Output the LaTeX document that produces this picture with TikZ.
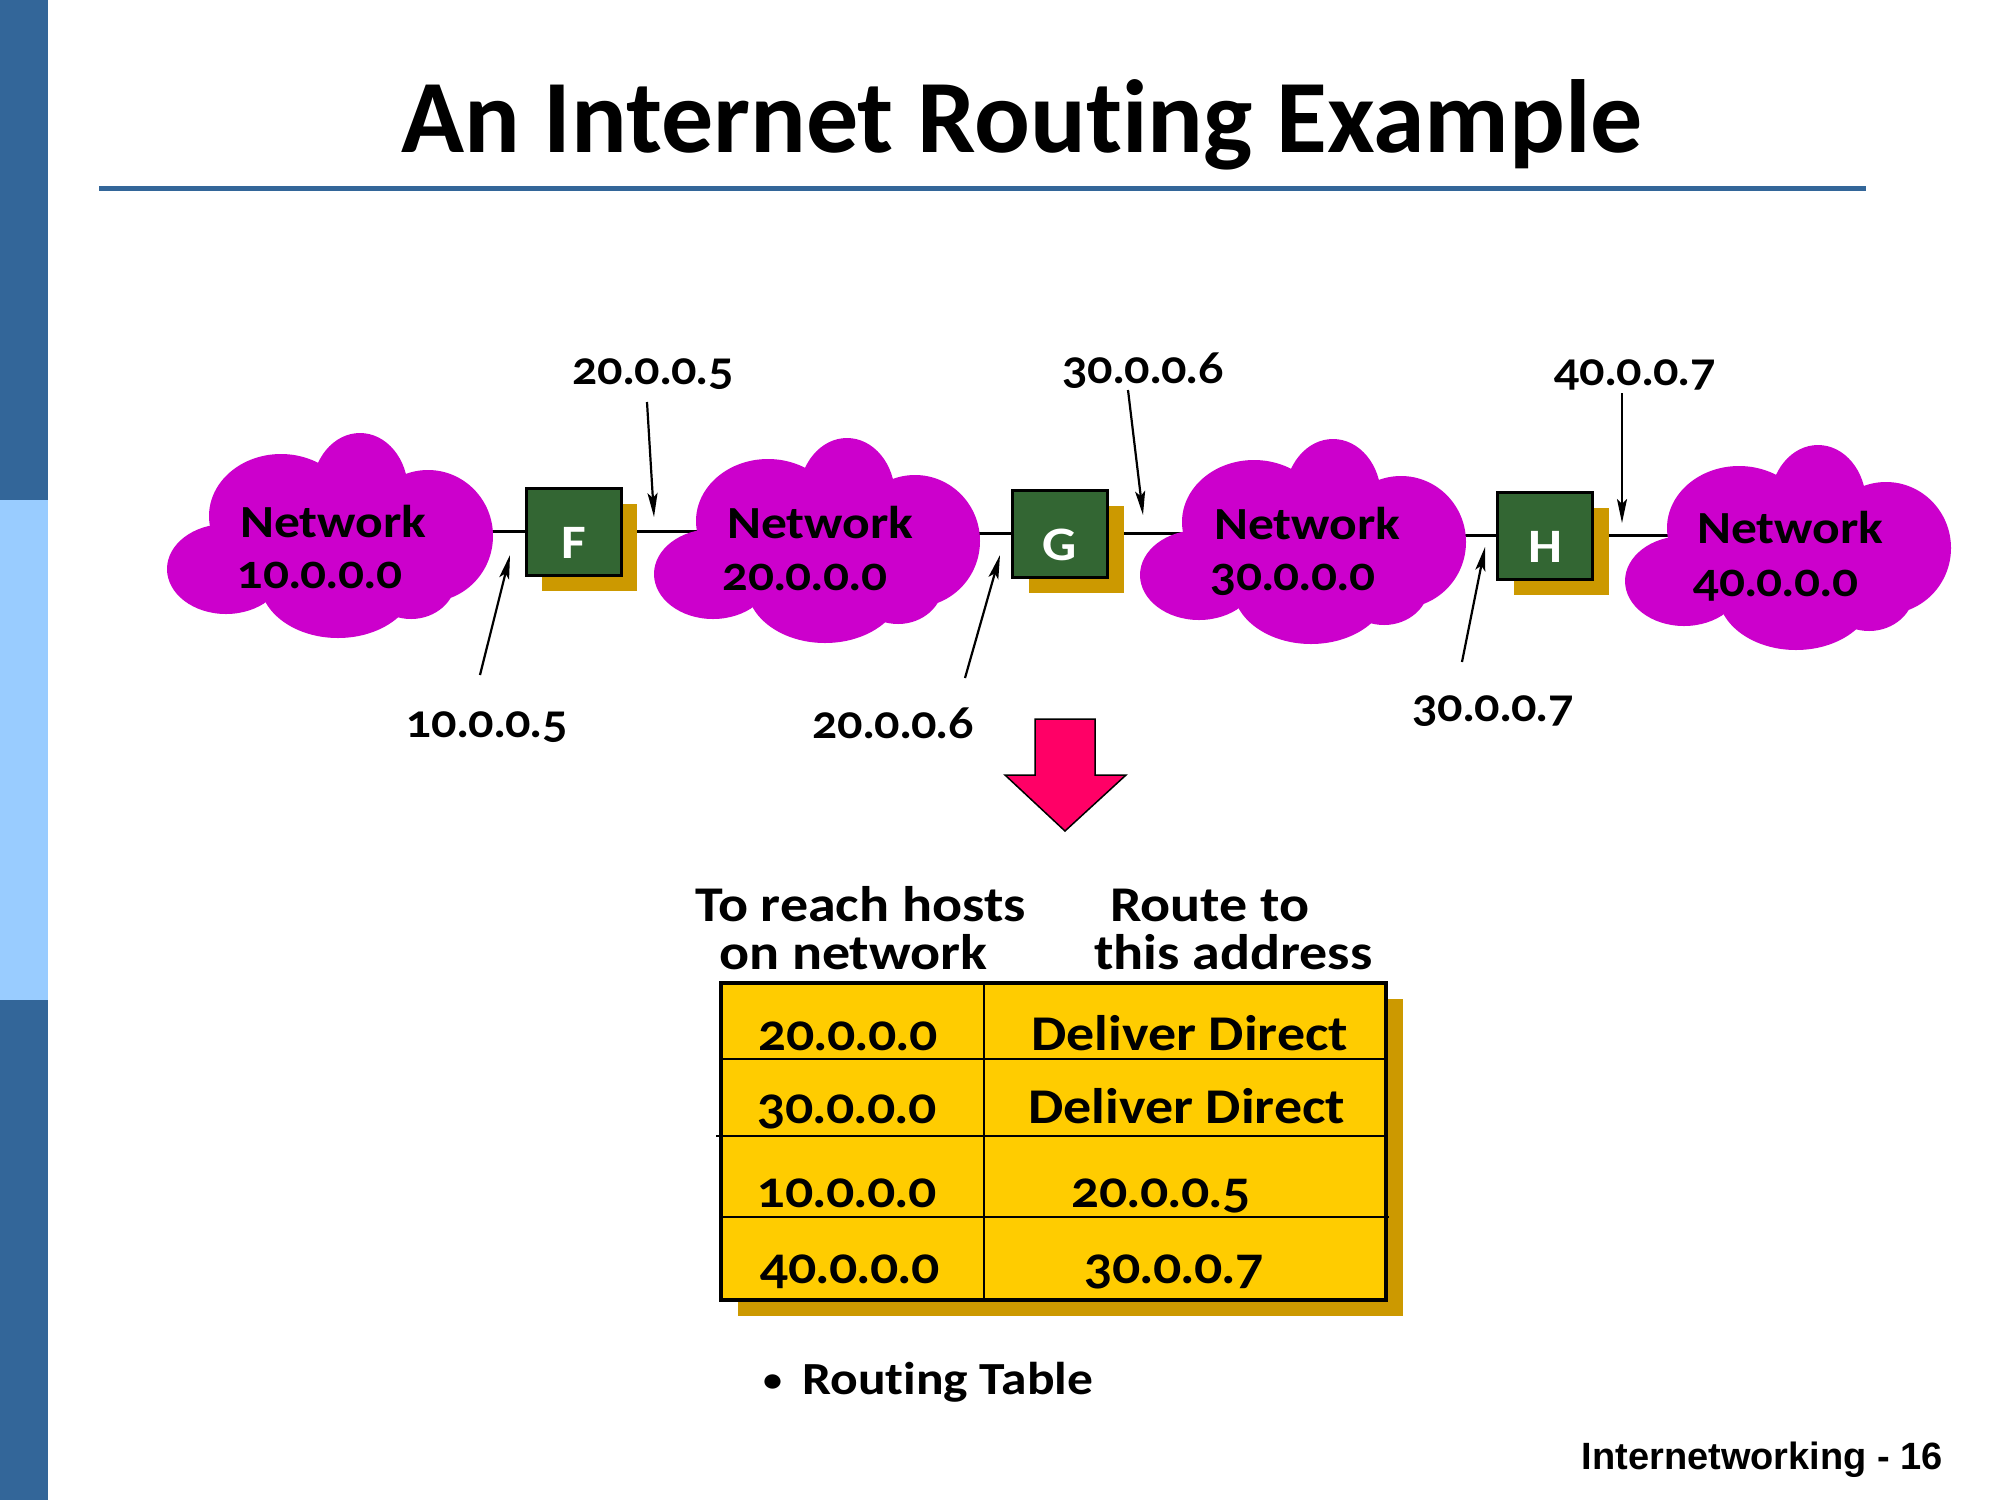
\documentclass[tikz,border=0pt]{standalone}
\usepackage{fontspec}
\setmainfont{Carlito}[Ligatures={NoCommon}]
\newfontfamily\labfont{Carlito}[FakeStretch=1.12, Ligatures={NoCommon}]
\newfontfamily\numfont{Lato}[Numbers=OldStyle, FakeStretch=1.05]
\newfontfamily\footfont{Liberation Sans}
\usetikzlibrary{arrows.meta,shadows}
\definecolor{barc}{HTML}{336699}
\definecolor{barlight}{HTML}{99CCFF}
\definecolor{cloudc}{HTML}{CC00CC}
\definecolor{rtrc}{HTML}{336633}
\definecolor{goldc}{HTML}{CC9900}
\definecolor{tblc}{HTML}{FFCC00}
\definecolor{pinkc}{HTML}{FF0066}
\tikzset{
  netcloud/.pic={
    \fill[cloudc] (194,60) ellipse [x radius=48, y radius=58];
    \fill[cloudc] (115,85) ellipse [x radius=72, y radius=62];
    \fill[cloudc] (60,138) ellipse [x radius=59, y radius=45];
    \fill[cloudc] (172,150) ellipse [x radius=78, y radius=57];
    \fill[cloudc] (262,105) ellipse [x radius=65, y radius=66];
    \fill[cloudc] (245,148) ellipse [x radius=45, y radius=40];
    \fill[cloudc] (165,115) ellipse [x radius=110, y radius=65];
  },
  cloudtxt/.style={font=\labfont\bfseries\fontsize{46}{50}\selectfont, anchor=base west, inner sep=0},
  cloudnum/.style={font=\numfont\bfseries\fontsize{46}{50}\selectfont, anchor=base west, inner sep=0},
  iplab/.style={font=\numfont\bfseries\fontsize{45}{48}\selectfont, anchor=base, inner sep=0},
  tabtxt/.style={font=\labfont\bfseries\fontsize{50}{55}\selectfont, anchor=base west, inner sep=0},
  tabnum/.style={font=\numfont\bfseries\fontsize{50}{55}\selectfont, anchor=base west, inner sep=0},
  router/.style={draw=black, line width=3pt, fill=rtrc, minimum width=95pt, minimum height=87pt, inner sep=0,
    drop shadow={shadow xshift=16pt, shadow yshift=-16pt, fill=goldc, opacity=1}},
  rletter/.style={font=\labfont\bfseries\fontsize{48}{50}\selectfont, text=white, anchor=base, inner sep=0},
  link/.style={line width=2.5pt, black},
  ptr/.style={line width=2.2pt, black, -{Stealth[length=24pt, width=10pt, inset=5pt]}},
}
\begin{document}
\begin{tikzpicture}[x=1pt, y=-1pt]
\useasboundingbox (0,0) rectangle (2000,1500);
\fill[white] (0,0) rectangle (2000,1500);
% left bar
\fill[barc] (0,0) rectangle (48,500);
\fill[barlight] (0,500) rectangle (48,1000);
\fill[barc] (0,1000) rectangle (48,1500);
% title
\node[font=\bfseries\fontsize{104}{110}\selectfont, anchor=base, inner sep=0] (title) at (1022,152) {An Internet Routing Example};
\fill[barc] (99,186) rectangle (1866,191);

% cloud centres
\coordinate (C1) at (330,534);
\coordinate (C2) at (817,539);
\coordinate (C3) at (1303,540);
\coordinate (C4) at (1788,546);

% routers (positions)
\coordinate (Fp) at (573.5,531.5);
\coordinate (Gp) at (1060,533.5);
\coordinate (Hp) at (1545,535.5);

% links (drawn first)
\draw[link] (C1 |- Fp) -- (Fp);
\draw[link] (Fp) -- (C2 |- Fp);
\draw[link] (C2 |- Gp) -- (Gp);
\draw[link] (Gp) -- (C3 |- Gp);
\draw[link] (C3 |- Hp) -- (Hp);
\draw[link] (Hp) -- (C4 |- Hp);

% clouds
\pic at (166,431) {netcloud};
\pic at (653,436) {netcloud};
\pic at (1139,437) {netcloud};
\pic at (1624,443) {netcloud};
\node[cloudtxt] (N1a) at (240,537) {Network};
\node[cloudnum] (N1b) at (237,588) {10.0.0.0};
\node[cloudtxt] (N2a) at (727,538) {Network};
\node[cloudnum] (N2b) at (722,590) {20.0.0.0};
\node[cloudtxt] (N3a) at (1214,539) {Network};
\node[cloudnum] (N3b) at (1210,590) {30.0.0.0};
\node[cloudtxt] (N4a) at (1697,543) {Network};
\node[cloudnum] (N4b) at (1693,596) {40.0.0.0};

% routers
\node[router] (F) at (Fp) {};
\node[router] (G) at (Gp) {};
\node[router] (H) at (Hp) {};
\node[rletter] (Fl) at ([yshift=-27pt]F.center) {F};
\node[rletter] (Gl) at ([yshift=-27pt]G.center) {G};
\node[rletter] (Hl) at ([yshift=-27pt]H.center) {H};

% address labels and pointers
\node[iplab] (L1) at (653,384) {20.0.0.5};
\node[iplab] (L2) at (487,737) {10.0.0.5};
\node[iplab] (L3) at (893,738) {20.0.0.6};
\node[iplab] (L4) at (1143,383) {30.0.0.6};
\node[iplab] (L5) at (1635,385) {40.0.0.7};
\node[iplab] (L6) at (1493,721) {30.0.0.7};
\coordinate (p1s) at (647,402); \coordinate (p1e) at (654,517);
\coordinate (p2s) at (480,675); \coordinate (p2e) at (510,555);
\coordinate (p3s) at (965,678); \coordinate (p3e) at (1000,555);
\coordinate (p4s) at (1128,390); \coordinate (p4e) at (1143,515);
\coordinate (p5s) at (1622,393); \coordinate (p5e) at (1622,523);
\coordinate (p6s) at (1462,662); \coordinate (p6e) at (1485,547);
\draw[ptr] (p1s) -- (p1e);
\draw[ptr] (p2s) -- (p2e);
\draw[ptr] (p3s) -- (p3e);
\draw[ptr] (p4s) -- (p4e);
\draw[ptr] (p5s) -- (p5e);
\draw[ptr] (p6s) -- (p6e);

% big down arrow
\draw[fill=pinkc, line width=1.5pt, line join=miter]
  (1035,719) -- (1095,719) -- (1095,775) -- (1126,775) -- (1065,831) -- (1005,775) -- (1035,775) -- cycle;

% table headers
\node[tabtxt] (h1) at (695,921) {To reach hosts};
\node[tabtxt] (h2) at (719,969) {on network};
\node[tabtxt] (h3) at (1110,921) {Route to};
\node[tabtxt] (h4) at (1094,969) {this address};

% table
\fill[goldc] (738,999) rectangle (1403,1316);
\fill[tblc] (721,983) rectangle (1386,1300);
\draw[line width=2.5pt] (721,1059) -- (1386,1059);
\draw[line width=2.5pt] (716,1136) -- (1386,1136);
\draw[line width=2.5pt] (721,1217) -- (1389,1217);
\draw[line width=2.5pt] (984,983) -- (984,1300);
\draw[line width=3.5pt] (721,983) rectangle (1386,1300);

\node[tabnum] (r1a) at (758,1050) {20.0.0.0};
\node[tabtxt] (r1b) at (1031,1050) {Deliver Direct};
\node[tabnum] (r2a) at (757,1123) {30.0.0.0};
\node[tabtxt] (r2b) at (1028,1123) {Deliver Direct};
\node[tabnum] (r3a) at (757,1207) {10.0.0.0};
\node[tabnum] (r3b) at (1071,1207) {20.0.0.5};
\node[tabnum] (r4a) at (760,1283) {40.0.0.0};
\node[tabnum] (r4b) at (1084,1283) {30.0.0.7};

% bullet
\node[font=\labfont\bfseries\fontsize{46}{50}\selectfont, anchor=base west, inner sep=0] (bul) at (763,1394) {{\fontsize{34}{34}\selectfont\raisebox{3pt}{\textbullet}}\hspace{20pt}Routing Table};

% footer
\node[font=\footfont\bfseries\fontsize{38}{40}\selectfont, anchor=base east, inner sep=0] (foot) at (1943,1469) {Internetworking - 16};
\end{tikzpicture}
\end{document}
